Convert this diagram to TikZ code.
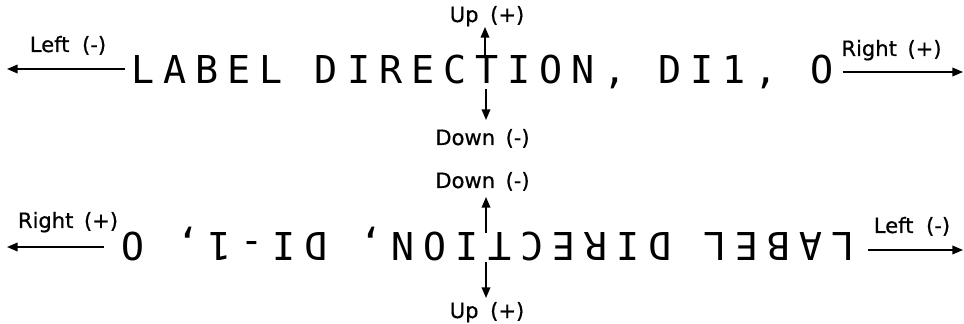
\documentclass[tikz,border=0pt]{standalone}
\usepackage{fontspec}
\usepackage{tikz}
\usetikzlibrary{arrows.meta}
\newfontfamily\plotfont[LetterSpace=23.3]{DejaVu Sans Mono}
\newfontfamily\notefont[FakeBold=0.6]{DejaVu Sans}
\tikzset{
  rotulo/.style={font=\plotfont\fontsize{28.8}{30}\selectfont,inner sep=0pt,outer sep=0pt},
  nota/.style={font=\notefont\fontsize{15.8}{17}\selectfont,inner sep=0pt,anchor=base},
  flecha/.style={-{Triangle[length=8pt,width=6.5pt]},line width=1.1pt}
}
\begin{document}
\begin{tikzpicture}[x=0.75pt,y=-0.75pt]
\useasboundingbox (0,0) rectangle (964,324);
\node[rotulo,anchor=base west] (top) at (131.5,84) {LABEL DIRECTION, DI1, O};
\node[rotulo,anchor=base west,rotate=180] (bot) at (854.8,233) {LABEL DIRECTION, DI-1, O};
\node[nota] (tl) at (68,52) {Left\hspace{.6em}(-)}; \node[nota] (tr) at (891.5,56) {Right\hspace{.5em}(+)};
\node[nota] (tu) at (487,22) {Up\hspace{.55em}(+)}; \node[nota] (td) at (482.5,145) {Down\hspace{.5em}(-)};
\node[nota] (bd) at (482.5,188) {Down\hspace{.5em}(-)}; \node[nota] (bu) at (487,318) {Up\hspace{.55em}(+)};
\node[nota] (br) at (68,228) {Right\hspace{.5em}(+)}; \node[nota] (bl) at (912,233) {Left\hspace{.6em}(-)};
\coordinate (tlt) at (7,69); \coordinate (trt) at (963,72); \coordinate (tut) at (485,27); \coordinate (tdt) at (486,120);
\coordinate (blt) at (7,247); \coordinate (brt) at (963,250); \coordinate (but) at (486,197); \coordinate (bdt) at (486,298);
\draw[flecha,shorten <=5pt] (tlt -| top.west) -- (tlt); \draw[flecha,shorten <=7pt] (trt -| top.east) -- (trt);
\draw[flecha] (tut |- top.north) -- (tut); \draw[flecha] (tdt |- top.south) -- (tdt);
\draw[flecha,shorten <=13pt] (blt -| bot.east) -- (blt); \draw[flecha,shorten <=10pt] (brt -| bot.west) -- (brt);
\draw[flecha] (but |- bot.base) -- (but); \draw[flecha] (bdt |- bot.north) -- (bdt);
\end{tikzpicture}
\end{document}
